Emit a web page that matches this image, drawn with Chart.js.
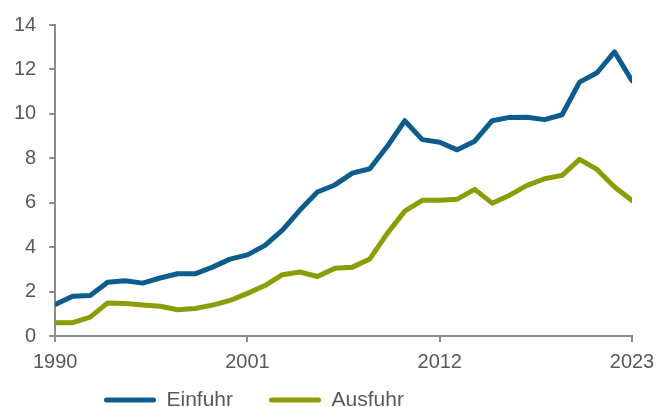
<!DOCTYPE html>
<html>
<head>
<meta charset="utf-8">
<script src="https://cdn.jsdelivr.net/npm/chart.js@4/dist/chart.umd.min.js"></script>
<style>
  html, body { margin: 0; padding: 0; background: #fff; overflow: hidden; }
  #wrap { width: 670px; height: 407px; }
</style>
</head>
<body>
<div id="wrap"><canvas id="chart"></canvas></div>
<script>
// data
const years = [1990, 1991, 1992, 1993, 1994, 1995, 1996, 1997, 1998, 1999,
               2000, 2001, 2002, 2003, 2004, 2005, 2006, 2007, 2008, 2009,
               2010, 2011, 2012, 2013, 2014, 2015, 2016, 2017, 2018, 2019,
               2020, 2021, 2022, 2023];
const einfuhr = [1.42, 1.79, 1.82, 2.42, 2.49, 2.38, 2.61, 2.80, 2.80, 3.10,
                 3.46, 3.65, 4.08, 4.77, 5.67, 6.48, 6.80, 7.33, 7.53, 8.54,
                 9.69, 8.84, 8.72, 8.38, 8.77, 9.69, 9.84, 9.85, 9.74, 9.96,
                 11.43, 11.85, 12.79, 11.49];
const ausfuhr = [0.60, 0.60, 0.85, 1.49, 1.46, 1.40, 1.34, 1.18, 1.24, 1.39,
                 1.60, 1.92, 2.27, 2.76, 2.88, 2.68, 3.05, 3.10, 3.47, 4.62,
                 5.62, 6.11, 6.11, 6.16, 6.60, 5.98, 6.34, 6.78, 7.08, 7.23,
                 7.95, 7.50, 6.71, 6.10];
const seriesNames = ['Einfuhr', 'Ausfuhr'];
const xTickStep = 11;
const yMax = 14;
const yTickStep = 2;

const blue = '#0d5c8c';
const green = '#8b9d05';
const textGrey = '#595959';
const axisGrey = '#8c8c8c';
const fontFamily = '"Liberation Sans", Arial, sans-serif';

// move the legend to where the reference has it (below the axis, left of centre)
const legendPlace = {
    id: 'legendPlace',
    afterLayout(chart) {
        const lg = chart.legend;
        const pad = lg.options.labels.padding;
        const fs = lg.options.labels.font.size;
        lg.left = 104 - pad;
        lg.top = 400 - fs / 2 - pad;
    }
};

new Chart(document.getElementById('chart'), {
    type: 'line',
    data: {
        labels: years,
        datasets: [
            {
                label: seriesNames[0],
                data: einfuhr,
                borderColor: blue,
                backgroundColor: blue,
                borderWidth: 5,
                borderCapStyle: 'round',
                borderJoinStyle: 'round',
                pointRadius: 0,
                tension: 0
            },
            {
                label: seriesNames[1],
                data: ausfuhr,
                borderColor: green,
                backgroundColor: green,
                borderWidth: 5,
                borderCapStyle: 'round',
                borderJoinStyle: 'round',
                pointRadius: 0,
                tension: 0
            }
        ]
    },
    options: {
        responsive: true,
        maintainAspectRatio: false,
        animation: false,
        layout: { padding: { top: 18, right: 38, left: 1, bottom: 0 } },
        scales: {
            x: {
                type: 'linear',
                min: years[0],
                max: years[years.length - 1],
                grid: { drawOnChartArea: false, drawTicks: true, tickLength: 6, color: axisGrey, lineWidth: 2 },
                border: { display: true, color: axisGrey, width: 2 },
                ticks: {
                    stepSize: xTickStep,
                    padding: 8,
                    color: textGrey,
                    font: { family: fontFamily, size: 20 },
                    maxRotation: 0,
                    callback: v => String(v)
                }
            },
            y: {
                min: 0,
                max: yMax,
                grid: { drawOnChartArea: false, drawTicks: true, tickLength: 6, color: axisGrey, lineWidth: 2 },
                border: { display: true, color: axisGrey, width: 2 },
                ticks: {
                    stepSize: yTickStep,
                    padding: 13,
                    color: textGrey,
                    font: { family: fontFamily, size: 20 }
                }
            }
        },
        plugins: {
            tooltip: { enabled: false },
            legend: {
                position: 'bottom',
                align: 'start',
                maxHeight: 25,
                labels: {
                    boxWidth: 52,
                    boxHeight: 5,
                    padding: 36,
                    useBorderRadius: true,
                    borderRadius: 2.5,
                    color: textGrey,
                    font: { family: fontFamily, size: 21 },
                    generateLabels: chart => Chart.defaults.plugins.legend.labels.generateLabels(chart)
                        .map(item => ({ ...item, lineWidth: 0 }))
                }
            }
        }
    },
    plugins: [legendPlace]
});
</script>
</body>
</html>
